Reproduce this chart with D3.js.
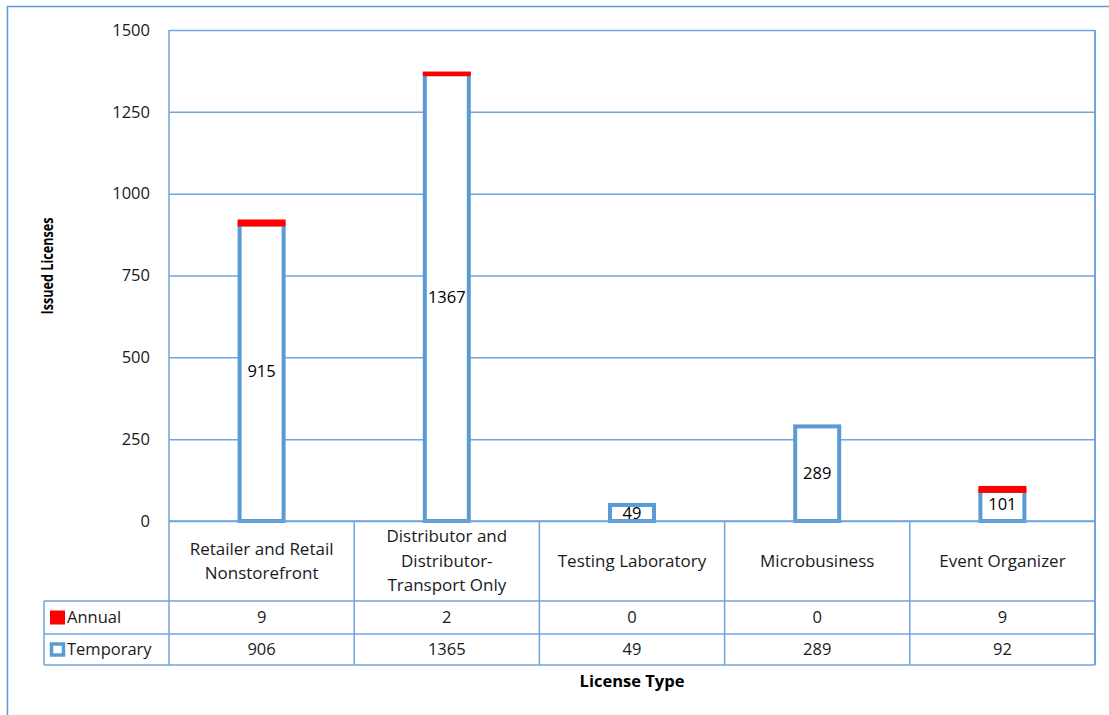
<!DOCTYPE html>
<html>
<head>
<meta charset="utf-8">
<script src="https://cdn.jsdelivr.net/npm/d3@7"></script>
<style>
  html, body { margin: 0; padding: 0; background: #fff; }
  svg { display: block; font-family: "Open Sans", sans-serif; }
</style>
</head>
<body>
<script>
// ---- data ----
const categories = [
  "Retailer and Retail\nNonstorefront",
  "Distributor and\nDistributor-\nTransport Only",
  "Testing Laboratory",
  "Microbusiness",
  "Event Organizer"
];
const annual = [9, 2, 0, 0, 9];
const temporary = [906, 1365, 49, 289, 92];
const seriesNames = ["Annual", "Temporary"];
const yTicks = [0, 250, 500, 750, 1000, 1250, 1500];
const yTitle = "Issued Licenses";
const xTitle = "License Type";

// ---- layout ----
const W = 1109, H = 715;
const plot = { left: 169, right: 1095, top: 30, bottom: 521 };
const table = { legendLeft: 44, catBottom: 601, row1Bottom: 634, row2Bottom: 665 };
const blue = "#5B9BD5", red = "#FF0000", gridBlue = "#6FA5DA", textCol = "#1a1a1a";

const svg = d3.select("body").append("svg").attr("width", W).attr("height", H);

// outer chart border
svg.append("rect").attr("x", 7.5).attr("y", 6.5).attr("width", 1120).attr("height", 730)
  .attr("fill", "none").attr("stroke", blue).attr("stroke-width", 1.5);

const x = d3.scaleBand().domain(categories).range([plot.left, plot.right]);
const y = d3.scaleLinear().domain([0, 1500]).range([plot.bottom, plot.top]);

// gridlines
const grid = svg.append("g").attr("transform", `translate(${plot.left},0)`)
  .call(d3.axisLeft(y).tickValues(yTicks).tickSize(-(plot.right - plot.left)).tickFormat(""));
grid.select(".domain").remove();
grid.selectAll("line").attr("stroke", gridBlue).attr("stroke-width", 1.5);

// y tick labels
const yAxis = svg.append("g").attr("transform", `translate(${plot.left - 19},0)`)
  .call(d3.axisLeft(y).tickValues(yTicks).tickSize(0).tickPadding(0).tickFormat(d3.format("d")));
yAxis.select(".domain").remove();
yAxis.selectAll("text").attr("font-size", 16.5).attr("fill", textCol)
  .attr("font-family", "Open Sans, sans-serif");

// plot border (left and right verticals, extend through table)
svg.append("line").attr("x1", plot.left).attr("x2", plot.left).attr("y1", plot.top).attr("y2", table.row2Bottom)
  .attr("stroke", gridBlue).attr("stroke-width", 1.5);
svg.append("line").attr("x1", plot.right).attr("x2", plot.right).attr("y1", plot.top).attr("y2", table.row2Bottom)
  .attr("stroke", gridBlue).attr("stroke-width", 2);

// table grid
const tbl = svg.append("g").attr("stroke", gridBlue).attr("stroke-width", 1.5);
x.domain().forEach(c => {
  tbl.append("line").attr("x1", x(c) + x.bandwidth()).attr("x2", x(c) + x.bandwidth())
    .attr("y1", plot.bottom).attr("y2", table.row2Bottom);
});
[table.catBottom, table.row1Bottom, table.row2Bottom].forEach(yy => {
  tbl.append("line").attr("x1", table.legendLeft).attr("x2", plot.right).attr("y1", yy).attr("y2", yy);
});
tbl.append("line").attr("x1", table.legendLeft).attr("x2", table.legendLeft)
  .attr("y1", table.catBottom).attr("y2", table.row2Bottom);

// bars
const barW = 44;
const data = categories.map((c, i) => ({ c, a: annual[i], t: temporary[i], total: annual[i] + temporary[i] }));
const cx = d => x(d.c) + x.bandwidth() / 2;

svg.append("g").selectAll("rect").data(data).join("rect")
  .attr("x", d => cx(d) - barW / 2).attr("width", barW)
  .attr("y", d => y(d.t)).attr("height", d => y(0) - y(d.t))
  .attr("fill", "#fff").attr("stroke", blue).attr("stroke-width", 4);

svg.append("g").selectAll("rect").data(data.filter(d => d.a > 0)).join("rect")
  .attr("x", d => cx(d) - barW / 2).attr("width", barW)
  .attr("y", d => y(d.total)).attr("height", d => y(d.t) - y(d.total))
  .attr("fill", red).attr("stroke", red).attr("stroke-width", 4);

// x axis line
svg.append("line").attr("x1", plot.left).attr("x2", plot.right).attr("y1", plot.bottom).attr("y2", plot.bottom)
  .attr("stroke", gridBlue).attr("stroke-width", 1.5);

// data labels (totals)
svg.append("g").selectAll("text").data(data).join("text")
  .attr("x", cx).attr("y", d => y(d.total / 2)).attr("dy", "0.35em")
  .attr("text-anchor", "middle").attr("font-size", 16.5).attr("fill", "#000")
  .text(d => d.total);

// category labels
const lineH = 24.5;
const catMid = (plot.bottom + table.catBottom) / 2;
data.forEach(d => {
  const lines = d.c.split("\n");
  const t = svg.append("text").attr("text-anchor", "middle").attr("font-size", 17)
    .attr("fill", textCol);
  lines.forEach((ln, k) => {
    t.append("tspan").attr("x", cx(d))
      .attr("y", catMid + (k - (lines.length - 1) / 2) * lineH)
      .attr("dy", "0.35em").text(ln);
  });
});

// table values
const rowMid1 = (table.catBottom + table.row1Bottom) / 2;
const rowMid2 = (table.row1Bottom + table.row2Bottom) / 2;
svg.append("g").selectAll("text").data(data).join("text")
  .attr("x", cx).attr("y", rowMid1).attr("dy", "0.35em").attr("text-anchor", "middle")
  .attr("font-size", 16.5).attr("fill", textCol).text(d => d.a);
svg.append("g").selectAll("text").data(data).join("text")
  .attr("x", cx).attr("y", rowMid2).attr("dy", "0.35em").attr("text-anchor", "middle")
  .attr("font-size", 16.5).attr("fill", textCol).text(d => d.t);

// legend keys in table
svg.append("rect").attr("x", 50).attr("y", rowMid1 - 7).attr("width", 15).attr("height", 14).attr("fill", red);
svg.append("rect").attr("x", 51.5).attr("y", rowMid2 - 5.5).attr("width", 12).attr("height", 11)
  .attr("fill", "#fff").attr("stroke", blue).attr("stroke-width", 3.5);
svg.append("text").attr("x", 67).attr("y", rowMid1).attr("dy", "0.35em").attr("font-size", 16.5)
  .attr("fill", textCol).text(seriesNames[0]);
svg.append("text").attr("x", 67).attr("y", rowMid2).attr("dy", "0.35em").attr("font-size", 16.5)
  .attr("fill", textCol).text(seriesNames[1]);

// axis titles
svg.append("text").attr("x", (plot.left + plot.right) / 2).attr("y", 681).attr("dy", "0.35em")
  .attr("text-anchor", "middle").attr("font-size", 16.5).attr("font-weight", "bold").attr("fill", "#000")
  .text(xTitle);
svg.append("text").attr("transform", "translate(47,266) rotate(-90)").attr("dy", "0.35em")
  .attr("text-anchor", "middle").attr("font-size", 16).attr("font-weight", "bold").attr("fill", "#000")
  .attr("textLength", 97).attr("lengthAdjust", "spacingAndGlyphs")
  .text(yTitle);
</script>
</body>
</html>
